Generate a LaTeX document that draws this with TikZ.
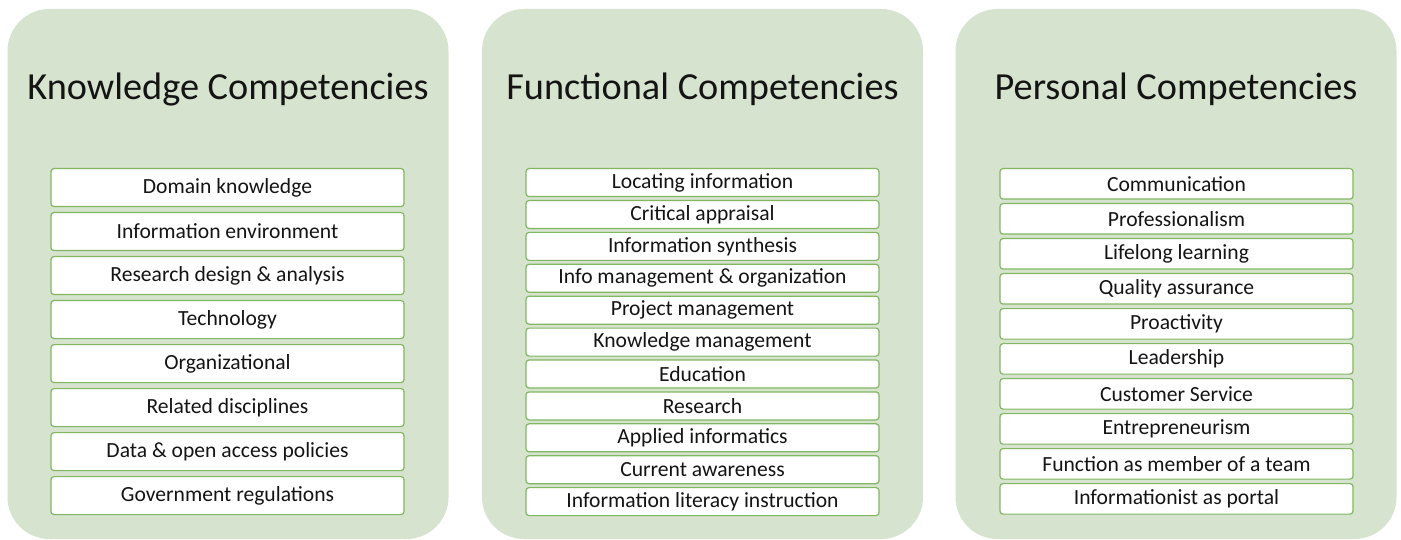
\documentclass[tikz,border=0pt]{standalone}
\usepackage{fontspec}
\setmainfont{Carlito}
\definecolor{panelgreen}{RGB}{214,227,206}
\definecolor{itemgreen}{RGB}{128,183,96}
\definecolor{inkgray}{RGB}{20,20,20}
\begin{document}
\begin{tikzpicture}[x=1pt,y=-1pt,
  panel/.style={fill=panelgreen, draw=none, rounded corners=42pt,
    minimum width=441pt, minimum height=530pt, inner sep=0pt},
  title/.style={anchor=base, font=\fontsize{38.3}{41}\selectfont, text=inkgray},
  item/.style={draw=itemgreen, line width=1.2pt, fill=white, rounded corners=3pt,
    minimum width=353pt, inner sep=0pt, anchor=north,
    font=\fontsize{21.6}{23}\selectfont, text=inkgray},
]
\useasboundingbox (0,0) rectangle (1401,540);

% three column panels
\node[panel] (kpanel) at (228,274) {};
\node[panel] (fpanel) at (702.5,274) {};
\node[panel] (ppanel) at (1176,274) {};

% column headings
\node[title] (ktitle) at (228,100) {Knowledge Competencies};
\node[title] (ftitle) at (702.5,100) {Functional Competencies};
\node[title] (ptitle) at (1176,100) {Personal Competencies};

% knowledge items
\foreach \t [count=\i] in {Domain knowledge, Information environment,
  Research design \& analysis, Technology, Organizational,
  Related disciplines, Data \& open access policies, Government regulations}
  \node[item, minimum height=38pt] (k\i) at (227.5,{168+(\i-1)*44}) {\t};

% functional items
\foreach \t [count=\i] in {Locating information, Critical appraisal,
  Information synthesis, Info management \& organization, Project management,
  Knowledge management, Education, Research, Applied informatics,
  Current awareness, Information literacy instruction}
  \node[item, minimum height=28pt] (f\i) at (702.5,{168+(\i-1)*31.9}) {\t};

% personal items
\foreach \t [count=\i] in {Communication, Professionalism, Lifelong learning,
  Quality assurance, Proactivity, Leadership, Customer Service,
  Entrepreneurism, Function as member of a team, Informationist as portal}
  \node[item, minimum height=30.5pt] (p\i) at (1176.5,{168+(\i-1)*35}) {\t};
\end{tikzpicture}
\end{document}
